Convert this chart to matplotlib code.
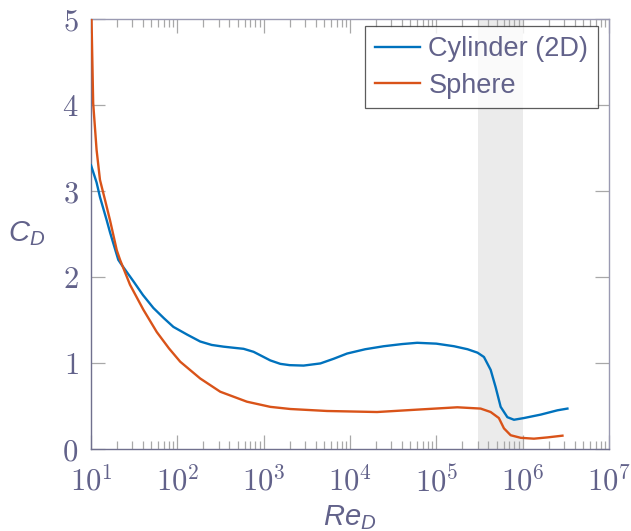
import matplotlib
matplotlib.use("Agg")
import matplotlib.pyplot as plt
from matplotlib.ticker import LogLocator, FixedLocator, NullFormatter

# ---- data ----
re_cyl = [10, 11.6, 12.7, 15.2, 16.6, 20.7, 22.7, 31, 40, 52.8, 70, 90, 130, 184, 250,
          343, 470, 585, 764, 914, 1194, 1560, 2000, 2900, 4540, 6500, 9250, 15000,
          24600, 40000, 60000, 1e5, 1.6e5, 2.3e5, 3.0e5, 3.56e5, 4.26e5, 4.86e5,
          5.56e5, 6.65e5, 7.93e5, 1.035e6, 1.62e6, 2.53e6, 3.3e6]
cd_cyl = [3.30, 3.10, 2.93, 2.66, 2.52, 2.20, 2.14, 1.95, 1.79, 1.64, 1.52, 1.42, 1.33,
          1.25, 1.21, 1.19, 1.175, 1.165, 1.13, 1.09, 1.03, 0.99, 0.975, 0.97, 0.995,
          1.05, 1.11, 1.16, 1.195, 1.22, 1.235, 1.225, 1.195, 1.16, 1.12, 1.07, 0.92,
          0.72, 0.49, 0.37, 0.34, 0.36, 0.40, 0.45, 0.47]

re_sph = [10, 10.6, 11.6, 12.7, 14.5, 16.6, 19.9, 21.7, 28.3, 40.4, 57.8, 80, 108, 184,
          314, 640, 1194, 2037, 5420, 20600, 65600, 1.75e5, 3.26e5, 4.26e5, 5.3e5,
          6.07e5, 7.26e5, 9.5e5, 1.35e6, 1.94e6, 2.89e6]
cd_sph = [5.3, 4.02, 3.48, 3.13, 2.90, 2.66, 2.31, 2.20, 1.91, 1.62, 1.36, 1.17, 1.015,
          0.82, 0.666, 0.55, 0.49, 0.465, 0.442, 0.43, 0.46, 0.485, 0.47, 0.43, 0.36,
          0.24, 0.16, 0.13, 0.12, 0.135, 0.155]

shade_range = [3e5, 1e6]
series_labels = ["Cylinder (2D)", "Sphere"]
x_ticks = [1e1, 1e2, 1e3, 1e4, 1e5, 1e6, 1e7]
x_ticklabels = [r"$10^{1}$", r"$10^{2}$", r"$10^{3}$", r"$10^{4}$", r"$10^{5}$", r"$10^{6}$", r"$10^{7}$"]
y_ticks = [0, 1, 2, 3, 4, 5]
y_ticklabels = [r"$0$", r"$1$", r"$2$", r"$3$", r"$4$", r"$5$"]

# ---- style ----
TXT = "#62628a"
SPINE = "#70708e"
TICK = "#a8a8a8"
BLUE = "#0072BD"
ORANGE = "#D95319"

plt.rcParams["mathtext.fontset"] = "cm"
plt.rcParams["mathtext.it"] = "Liberation Sans:italic"
plt.rcParams["mathtext.rm"] = "Liberation Sans"
plt.rcParams["mathtext.cal"] = "Liberation Sans"
plt.rcParams["mathtext.bf"] = "Liberation Sans:bold"
plt.rcParams["mathtext.sf"] = "Liberation Sans"
plt.rcParams["mathtext.tt"] = "Liberation Mono"

fig = plt.figure(figsize=(6.31, 5.31), dpi=100)
ax = fig.add_axes([91/631, 1-449/531, (609-91)/631, (449-19)/531])

ax.axvspan(shade_range[0], shade_range[1], color="#ebebeb", zorder=0, lw=0)
ax.plot(re_cyl, cd_cyl, color=BLUE, lw=1.7, label=series_labels[0], zorder=3)
ax.plot(re_sph, cd_sph, color=ORANGE, lw=1.7, label=series_labels[1], zorder=3)

ax.set_xscale("log")
ax.set_xlim(10, 1e7)
ax.set_ylim(0, 5)

ax.xaxis.set_major_locator(FixedLocator(x_ticks))
ax.set_xticklabels(x_ticklabels)
ax.xaxis.set_minor_locator(LogLocator(base=10, subs=range(2, 10), numticks=20))
ax.xaxis.set_minor_formatter(NullFormatter())
ax.set_yticks(y_ticks)
ax.set_yticklabels(y_ticklabels)

ax.tick_params(which="both", direction="in", top=True, right=True, color=TICK,
               labelcolor=TXT, labelsize=22, width=0.9)
ax.tick_params(which="major", length=10)
ax.tick_params(which="minor", length=6)
ax.tick_params(axis="x", pad=12)
ax.tick_params(axis="y", pad=9)

for s in ["left", "bottom"]:
    ax.spines[s].set_color(SPINE)
    ax.spines[s].set_linewidth(1.0)
for s in ["top", "right"]:
    ax.spines[s].set_color("#9a9ab2")
    ax.spines[s].set_linewidth(1.0)

ax.set_ylabel(r"$C_D$", fontsize=21, color=TXT, rotation=0, math_fontfamily="custom",
              ha="center", va="center")
ax.yaxis.set_label_coords(-0.124, 0.5)
ax.set_xlabel(r"$Re_D$", fontsize=21, color=TXT, math_fontfamily="custom",
              ha="center", va="center")
ax.xaxis.set_label_coords(0.5, -0.160)

leg = ax.legend(loc="upper right", bbox_to_anchor=(0.979, 0.983),
                frameon=True, fancybox=False, handlelength=1.65, handletextpad=0.33,
                borderpad=0.36, labelspacing=0.39, borderaxespad=0.0,
                prop={"family": "Liberation Sans", "size": 19.5})
leg.get_frame().set_edgecolor("#333333")
leg.get_frame().set_linewidth(0.9)
for t in leg.get_texts():
    t.set_color(TXT)

fig.savefig("out.png", dpi=100)
